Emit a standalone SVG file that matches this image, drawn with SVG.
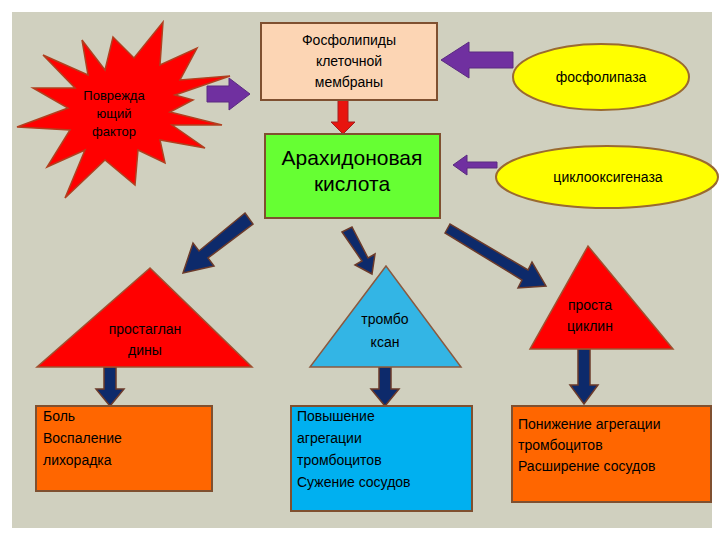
<svg xmlns="http://www.w3.org/2000/svg" width="720" height="540" viewBox="0 0 720 540">
<style>
text{font-family:"Liberation Sans",Arial,sans-serif;fill:#000;text-anchor:middle}
.s{font-size:14px}
.l{text-anchor:start;font-size:14px}
.pa{fill:#7030a0;stroke:#5a2a80;stroke-width:1}
.ba{fill:#0d2a6b;stroke:#6b3a2a;stroke-width:1.5}
.bx{stroke:#7f5030;stroke-width:2}
</style>
<rect width="720" height="540" fill="#fff"/>
<rect x="12" y="12" width="700" height="516" fill="#d0d0bf"/>
<g id="connectors">
<path class="pa" d="M207,86 h22 v-8 l21,16 -21,16 v-8 h-22z"/>
<path class="pa" d="M513,52 h-44 v-10 l-28,18 28,18 v-10 h44z"/>
<path class="pa" d="M497,162 h-30 v-7 l-14,10 14,10 v-7 h30z"/>
<path d="M338,100 h10 v22 h7 l-12,12 -12,-12 h7z" fill="#e8140e" stroke="#a02020"/>
<path class="ba" d="M245,213 l8,11 -45,34 6,8 -31,7 10,-30 6,8z"/>
<path class="ba" d="M342,232 l10,-5 16,31 7,-4 -3,20 -17,-9 7,-4z"/>
<path class="ba" d="M445,233 l5,-9 78,46 4,-8 14,24 -28,2 4,-8z"/>
<path class="ba" d="M104,367 h12 v22 h8 l-14,17 -14,-17 h8z"/>
<path class="ba" d="M379,367 h12 v22 h8 l-14,17 -14,-17 h8z"/>
<path class="ba" d="M578,349 h12 v36 h8 l-14,19 -14,-19 h8z"/>
</g>
<g id="starburst">
<polygon points="113,37 134,58 163,22 160,65 197,48 180,80 230,76 175,95 193,100 170,112 222,125 172,125 205,148 160,140 165,163 138,150 135,185 105,160 65,198 85,150 47,167 70,130 17,127 68,108 33,88 75,88 43,55 88,75 82,40 105,70" fill="#ff0000" stroke="#b04020" stroke-width="1.5"/>
<text class="s" x="114" y="100" style="font-size:13px">Поврежда</text>
<text class="s" x="114" y="118" style="font-size:13px">ющий</text>
<text class="s" x="114" y="136" style="font-size:13px">фактор</text>
</g>
<g id="phospholipids">
<rect class="bx" x="261" y="23" width="176" height="77" fill="#fcd5b4"/>
<text class="s" x="349" y="45">Фосфолипиды</text>
<text class="s" x="349" y="66">клеточной</text>
<text class="s" x="349" y="87">мембраны</text>
</g>
<g id="arachidonic">
<rect class="bx" x="265" y="134" width="175" height="84" fill="#66ff33"/>
<text x="352" y="165" style="font-size:21px">Арахидоновая</text>
<text x="352" y="191" style="font-size:21px">кислота</text>
</g>
<g id="phospholipase">
<ellipse cx="601" cy="77" rx="88" ry="33" fill="#ffff00" stroke="#9a6a30" stroke-width="2"/>
<text class="s" x="601" y="82">фосфолипаза</text>
</g>
<g id="cox">
<ellipse cx="607" cy="177" rx="111" ry="31" fill="#ffff00" stroke="#9a6a30" stroke-width="2"/>
<text class="s" x="608" y="182">циклооксигеназа</text>
</g>
<g id="prostaglandins">
<polygon points="150,268 37,367 252,367" fill="#ff0000" stroke="#a05030" stroke-width="1.5"/>
<text class="s" x="145" y="334">простаглан</text>
<text class="s" x="145" y="355">дины</text>
</g>
<g id="thromboxane">
<polygon points="386,266 310,367 461,367" fill="#33b5e5" stroke="#8a5a40" stroke-width="1.5"/>
<text class="s" x="385" y="324">тромбо</text>
<text class="s" x="385" y="347">ксан</text>
</g>
<g id="prostacyclin">
<polygon points="588,246 530,349 673,349" fill="#ff0000" stroke="#a05030" stroke-width="1.5"/>
<text class="s" x="590" y="310">проста</text>
<text class="s" x="590" y="331">циклин</text>
</g>
<g id="pain">
<rect class="bx" x="36" y="406" width="176" height="85" fill="#ff6600"/>
<text class="l" x="43" y="421">Боль</text>
<text class="l" x="43" y="443">Воспаление</text>
<text class="l" x="43" y="465">лихорадка</text>
</g>
<g id="increase">
<rect class="bx" x="291" y="406" width="181" height="105" fill="#00b0f0"/>
<text class="l" x="297" y="421">Повышение</text>
<text class="l" x="297" y="443">агрегации</text>
<text class="l" x="297" y="465">тромбоцитов</text>
<text class="l" x="297" y="487">Сужение сосудов</text>
</g>
<g id="decrease">
<rect class="bx" x="512" y="406" width="199" height="96" fill="#ff6600"/>
<text class="l" x="518" y="429">Понижение агрегации</text>
<text class="l" x="518" y="450">тромбоцитов</text>
<text class="l" x="518" y="471">Расширение сосудов</text>
</g>
</svg>
